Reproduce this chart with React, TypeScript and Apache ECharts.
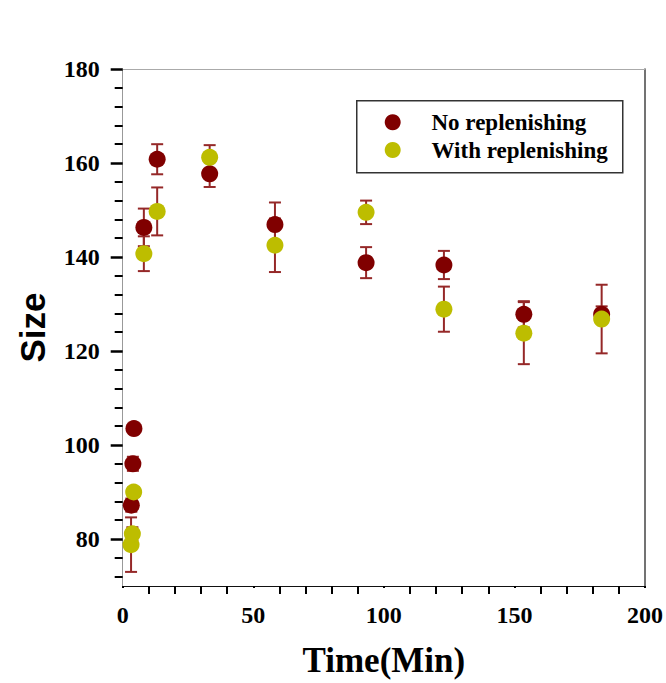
import React, { useEffect, useRef } from "react";
import * as echarts from "echarts";

// ---- data ----
const noRepTime = [3.3, 3.9, 4.3, 8.1, 13.2, 33.3, 58.3, 93.2, 123, 153.6, 183.4];
const noRepSize = [87.2, 96.0, 103.5, 146.3, 160.8, 157.7, 146.9, 138.8, 138.3, 127.8, 127.8];
const noRepErr = [1.4, 1.5, 0.5, 4.0, 3.2, 2.8, 4.7, 3.3, 3.0, 2.8, 1.7];

const withRepTime = [3.2, 3.7, 4.2, 8.1, 13.2, 33.3, 58.3, 93.2, 123, 153.6, 183.4];
const withRepSize = [78.8, 81.1, 90.0, 140.7, 149.7, 161.2, 142.5, 149.5, 128.9, 123.8, 126.8];
const withRepErr = [5.8, 1.4, 1.0, 3.7, 5.1, 2.6, 5.7, 2.5, 4.8, 6.6, 7.3];

const yMajorTicks = [80, 100, 120, 140, 160, 180];
const yMinorTicks = [72, 76, 84, 88, 92, 96, 104, 108, 112, 116, 124, 128, 132, 136, 144, 148, 152, 156, 164, 168, 172, 176];

const seriesNames = ["No replenishing", "With replenishing"];

const RED = "#800000";
const YELLOW = "#BDBD00";
const ERR = "#952828";

const SERIF = "'Liberation Serif', 'Times New Roman', serif";
const SANS = "'Liberation Sans', Arial, sans-serif";

function errData(t: number[], v: number[], e: number[]) {
  return t.map((x, i) => [x, v[i] - e[i], v[i] + e[i]]);
}

function pts(t: number[], v: number[]) {
  return t.map((x, i) => [x, v[i]]);
}

const renderErr = (params: any, api: any) => {
  const x = api.value(0);
  const lo = api.value(1);
  const hi = api.value(2);
  const pHi = api.coord([x, hi]);
  const pLo = api.coord([x, lo]);
  const hw = 6;
  const style = { stroke: ERR, lineWidth: 2 };
  return {
    type: "group",
    children: [
      { type: "line", shape: { x1: pHi[0], y1: pHi[1], x2: pLo[0], y2: pLo[1] }, style },
      { type: "line", shape: { x1: pHi[0] - hw, y1: pHi[1], x2: pHi[0] + hw, y2: pHi[1] }, style },
      { type: "line", shape: { x1: pLo[0] - hw, y1: pLo[1], x2: pLo[0] + hw, y2: pLo[1] }, style },
    ],
  };
};

export default function App() {
  const ref = useRef<HTMLDivElement>(null);
  useEffect(() => {
    if (!ref.current) return;
    document.body.style.margin = "0";
    document.body.style.overflow = "hidden";
    const chart = echarts.init(ref.current, null, { renderer: "svg" });
    const legendX = 356;
    const legendY = 100;
    const legendFont = 23;
    chart.setOption({
      animation: false,
      backgroundColor: "#ffffff",
      grid: { left: 122.7, right: 19, top: 69, bottom: 90.3, containLabel: false },
      xAxis: [
        {
          type: "value",
          min: 0,
          max: 200,
          interval: 50,
          position: "bottom",
          name: "Time(Min)",
          nameLocation: "middle",
          nameGap: 57,
          nameTextStyle: { fontFamily: SERIF, fontWeight: "bold", fontSize: 35, color: "#000" },
          axisLine: { show: true, onZero: false, lineStyle: { color: "#111", width: 1.2 } },
          axisTick: { show: true, length: 2, lineStyle: { color: "#000", width: 2 } },
          minorTick: { show: true, splitNumber: 5, length: 8, lineStyle: { color: "#000", width: 2 } },
          axisLabel: { fontFamily: SERIF, fontWeight: "bold", fontSize: 24, color: "#000", margin: 17 },
          splitLine: { show: false },
        },
        {
          type: "value",
          min: 0,
          max: 200,
          position: "top",
          axisLine: { show: true, onZero: false, lineStyle: { color: "#aaaaaa", width: 1 } },
          axisTick: { show: false },
          axisLabel: { show: false },
          splitLine: { show: false },
        },
      ],
      yAxis: [
        {
          type: "value",
          min: 70,
          max: 180,
          position: "left",
          name: "Size",
          nameLocation: "middle",
          nameGap: 73,
          nameRotate: 90,
          nameTextStyle: { fontFamily: SANS, fontWeight: "bold", fontSize: 35, color: "#000" },
          axisLine: { show: true, onZero: false, lineStyle: { color: "#999999", width: 1 } },
          axisTick: { show: true, length: 12, customValues: yMajorTicks, lineStyle: { color: "#000", width: 2.5 } },
          axisLabel: {
            fontFamily: SERIF,
            fontWeight: "bold",
            fontSize: 24,
            color: "#000",
            margin: 23,
            customValues: yMajorTicks,
          },
          splitLine: { show: false },
        },
        {
          type: "value",
          min: 70,
          max: 180,
          position: "right",
          axisLine: { show: true, onZero: false, lineStyle: { color: "#444444", width: 1.5 } },
          axisTick: { show: false },
          axisLabel: { show: false },
          splitLine: { show: false },
        },
        {
          type: "value",
          min: 70,
          max: 180,
          position: "left",
          offset: 0,
          axisLine: { show: false },
          axisTick: { show: true, length: 8, customValues: yMinorTicks, lineStyle: { color: "#000", width: 2 } },
          axisLabel: { show: false },
          splitLine: { show: false },
        },
      ],
      series: [
        {
          type: "custom",
          name: "errNo",
          renderItem: renderErr,
          data: errData(noRepTime, noRepSize, noRepErr),
          encode: { x: 0, y: [1, 2] },
          z: 1,
          silent: true,
        },
        {
          type: "custom",
          name: "errWith",
          renderItem: renderErr,
          data: errData(withRepTime, withRepSize, withRepErr),
          encode: { x: 0, y: [1, 2] },
          z: 1,
          silent: true,
        },
        {
          type: "scatter",
          name: seriesNames[0],
          data: pts(noRepTime, noRepSize),
          symbol: "circle",
          symbolSize: 17,
          itemStyle: { color: RED, opacity: 1 },
          z: 3,
        },
        {
          type: "scatter",
          name: seriesNames[1],
          data: pts(withRepTime, withRepSize),
          symbol: "circle",
          symbolSize: 17,
          itemStyle: { color: YELLOW, opacity: 1 },
          z: 4,
        },
      ],
      graphic: [
        {
          type: "rect",
          left: legendX,
          top: legendY,
          shape: { width: 266, height: 72 },
          style: { fill: "#fff", stroke: "#333", lineWidth: 1.5 },
          z: 10,
        },
        {
          type: "circle",
          shape: { cx: 392.7, cy: 122.3, r: 8 },
          style: { fill: RED },
          z: 11,
        },
        {
          type: "circle",
          shape: { cx: 392.7, cy: 150, r: 8 },
          style: { fill: YELLOW },
          z: 11,
        },
        {
          type: "text",
          x: 431.5,
          y: 122,
          style: {
            text: seriesNames[0],
            fontFamily: SERIF,
            fontWeight: "bold",
            fontSize: legendFont,
            fill: "#000",
            verticalAlign: "middle",
          },
          z: 11,
        },
        {
          type: "text",
          x: 431.5,
          y: 150,
          style: {
            text: seriesNames[1],
            fontFamily: SERIF,
            fontWeight: "bold",
            fontSize: legendFont,
            fill: "#000",
            verticalAlign: "middle",
          },
          z: 11,
        },
      ],
    });
    return () => chart.dispose();
  }, []);
  return (
    <div
      ref={ref}
      style={{ position: "absolute", left: 0, top: 0, width: 666, height: 683 }}
    />
  );
}
